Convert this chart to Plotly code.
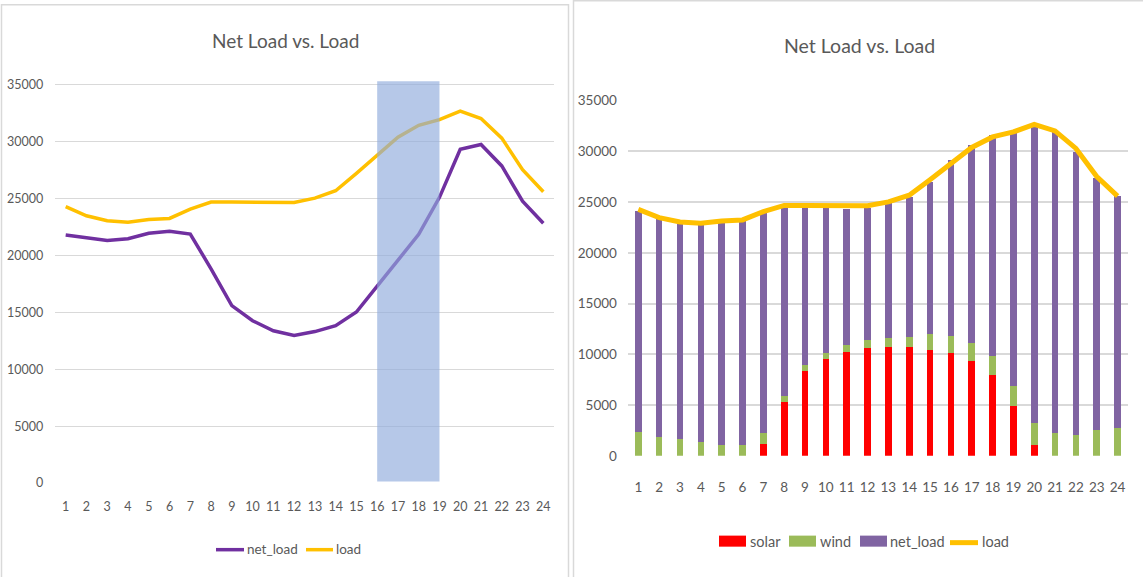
import plotly.graph_objects as go

# Hourly profile (hour of day 1..24), MW
hours = list(range(1, 25))
load = [24290, 23480, 23050, 22920, 23150, 23250, 24060, 24680, 24680, 24680, 24650, 24640,
        25030, 25680, 27210, 28830, 30390, 31430, 31920, 32670, 32020, 30300, 27530, 25590]
net_load = [21800, 21530, 21320, 21470, 21950, 22130, 21880, 18820, 15590, 14260, 13380, 12960,
            13310, 13830, 15030, 17300, 19580, 21850, 25100, 29320, 29740, 27860, 24770, 22830]
solar = [0, 0, 0, 0, 0, 0, 1190, 5280, 8320, 9580, 10200, 10600,
         10730, 10730, 10470, 10100, 9350, 7930, 4890, 1060, 0, 0, 0, 0]
wind = [2310, 1820, 1680, 1320, 1060, 1060, 1020, 600, 600, 590, 730, 860,
        860, 990, 1520, 1750, 1750, 1880, 2010, 2180, 2210, 2080, 2580, 2740]
y_ticks = [0, 5000, 10000, 15000, 20000, 25000, 30000, 35000]
ramp_window = (16, 19)  # evening ramp hours highlighted on the line chart
chart_title = "Net Load vs. Load"

W, H = 1143, 577
FONT = "Lato, Liberation Sans, sans-serif"
GREY_TXT = "#595959"
GRID = "#d9d9d9"
PURPLE_LINE = "#7030a0"
GOLD = "#ffc000"
RED = "#ff0000"
GREEN = "#9bbb59"
PURPLE_BAR = "#8064a2"

# vertical placement helper: page offset/scale of the rendered figure
Y_OFF, Y_SCALE = 8.7, 0.968


def px(x):
    return x / W


def py(y):
    return 1 - ((y - Y_OFF) / Y_SCALE) / H


fig = go.Figure()

# ---- left: line chart ----
fig.add_trace(go.Scatter(x=hours, y=net_load, mode="lines", name="net_load",
                         line=dict(color=PURPLE_LINE, width=3.5), xaxis="x", yaxis="y",
                         showlegend=False))
fig.add_trace(go.Scatter(x=hours, y=load, mode="lines", name="load",
                         line=dict(color=GOLD, width=3.5), xaxis="x", yaxis="y",
                         showlegend=False))

# ---- right: stacked bars with load line ----
bar_w = 0.32
fig.add_trace(go.Bar(x=hours, y=solar, name="solar", marker=dict(color=RED, line_width=0),
                     width=bar_w, xaxis="x2", yaxis="y2", showlegend=False))
fig.add_trace(go.Bar(x=hours, y=wind, name="wind", marker=dict(color=GREEN, line_width=0),
                     width=bar_w, xaxis="x2", yaxis="y2", showlegend=False))
fig.add_trace(go.Bar(x=hours, y=net_load, name="net_load", marker=dict(color=PURPLE_BAR, line_width=0),
                     width=bar_w, xaxis="x2", yaxis="y2", showlegend=False))
fig.add_trace(go.Scatter(x=hours, y=load, mode="lines", name="load",
                         line=dict(color=GOLD, width=5), xaxis="x2", yaxis="y2",
                         showlegend=False))

# axis geometry (pixels)
L_x0, L_x1 = 55.3, 553.7
L_y0 = 481.7
L_scale = 396.7 / 35000
L_top_val = 35400
L_ytop = L_y0 - L_top_val * L_scale

R_x0, R_x1 = 627.9, 1128.0
R_y0, R_ytop = 454.5, 101.0

tickfont_l = dict(family=FONT, size=12.5, color=GREY_TXT)
tickfont_r = dict(family=FONT, size=13.5, color=GREY_TXT)

fig.update_layout(
    width=W, height=H,
    margin=dict(l=0, r=0, t=0, b=0),
    paper_bgcolor="white", plot_bgcolor="white",
    barmode="stack",
    showlegend=False,
    xaxis=dict(domain=[px(L_x0), px(L_x1)], range=[0.5, 24.5], tickmode="array",
               tickvals=hours, ticktext=[str(h) for h in hours], showgrid=False,
               zeroline=False, showline=False, tickfont=tickfont_l, ticks="",
               ticklabelstandoff=14, anchor="y"),
    yaxis=dict(domain=[py(L_y0), py(L_ytop)], range=[0, L_top_val], tickmode="array",
               tickvals=y_ticks, ticktext=[str(v) for v in y_ticks], showgrid=True,
               gridcolor=GRID, gridwidth=1, zeroline=False, showline=False,
               tickfont=tickfont_l, ticks="", ticklabelstandoff=11, anchor="x"),
    xaxis2=dict(domain=[px(R_x0), px(R_x1)], range=[0.5, 24.5], tickmode="array",
                tickvals=hours, ticktext=[str(h) for h in hours], showgrid=False,
                zeroline=False, showline=False, tickfont=tickfont_r, ticks="",
                ticklabelstandoff=22, anchor="y2"),
    yaxis2=dict(domain=[py(R_y0), py(R_ytop)], range=[0, 35000], tickmode="array",
                tickvals=y_ticks, ticktext=[str(v) for v in y_ticks], showgrid=True,
                gridcolor=GRID, gridwidth=2, zeroline=False, showline=False,
                tickfont=tickfont_r, ticks="", ticklabelstandoff=10, anchor="x2"),
)

shapes = []
# highlighted ramp window
shapes.append(dict(type="rect", xref="x", yref="y", x0=ramp_window[0], x1=ramp_window[1],
                   y0=150, y1=35300, fillcolor="rgba(143,170,220,0.65)", line_width=0,
                   layer="above"))
# panel frames
shapes.append(dict(type="rect", xref="paper", yref="paper", x0=px(1.5), x1=px(568.5),
                   y0=py(585), y1=py(5.5), line=dict(color="#d9d9d9", width=1.5),
                   fillcolor="rgba(0,0,0,0)", layer="below"))
shapes.append(dict(type="rect", xref="paper", yref="paper", x0=px(573.5), x1=px(1146),
                   y0=py(585), y1=py(1.5), line=dict(color="#d9d9d9", width=1.5),
                   fillcolor="rgba(0,0,0,0)", layer="below"))

annotations = [
    dict(text=chart_title, x=px(285), y=py(41), xref="paper", yref="paper",
         showarrow=False, xanchor="center", yanchor="middle",
         font=dict(family=FONT, size=19, color=GREY_TXT)),
    dict(text=chart_title, x=px(859), y=py(46), xref="paper", yref="paper",
         showarrow=False, xanchor="center", yanchor="middle",
         font=dict(family=FONT, size=19.5, color=GREY_TXT)),
]

# legend of the line chart
leg_font_l = dict(family=FONT, size=13.5, color=GREY_TXT)
for (x0, x1, color, label, tx) in [(216, 244, PURPLE_LINE, "net_load", 245),
                                   (306, 333, GOLD, "load", 334)]:
    shapes.append(dict(type="line", xref="paper", yref="paper", x0=px(x0), x1=px(x1),
                       y0=py(548), y1=py(548), line=dict(color=color, width=3.5)))
    annotations.append(dict(text=label, x=px(tx), y=py(547), xref="paper", yref="paper",
                            showarrow=False, xanchor="left", yanchor="middle",
                            font=leg_font_l))

# legend of the bar chart
leg_font_r = dict(family=FONT, size=14.5, color=GREY_TXT)
for (x0, x1, color, label, tx) in [(719, 746, RED, "solar", 748),
                                   (789, 816, GREEN, "wind", 818),
                                   (860, 887, PURPLE_BAR, "net_load", 888)]:
    shapes.append(dict(type="rect", xref="paper", yref="paper", x0=px(x0), x1=px(x1),
                       y0=py(545), y1=py(534), fillcolor=color, line_width=0))
    annotations.append(dict(text=label, x=px(tx), y=py(540), xref="paper", yref="paper",
                            showarrow=False, xanchor="left", yanchor="middle",
                            font=leg_font_r))
shapes.append(dict(type="line", xref="paper", yref="paper", x0=px(950), x1=px(978),
                   y0=py(541), y1=py(541), line=dict(color=GOLD, width=5)))
annotations.append(dict(text="load", x=px(980), y=py(540), xref="paper", yref="paper",
                        showarrow=False, xanchor="left", yanchor="middle", font=leg_font_r))

fig.update_layout(shapes=shapes, annotations=annotations)

fig.write_html("out.html")
